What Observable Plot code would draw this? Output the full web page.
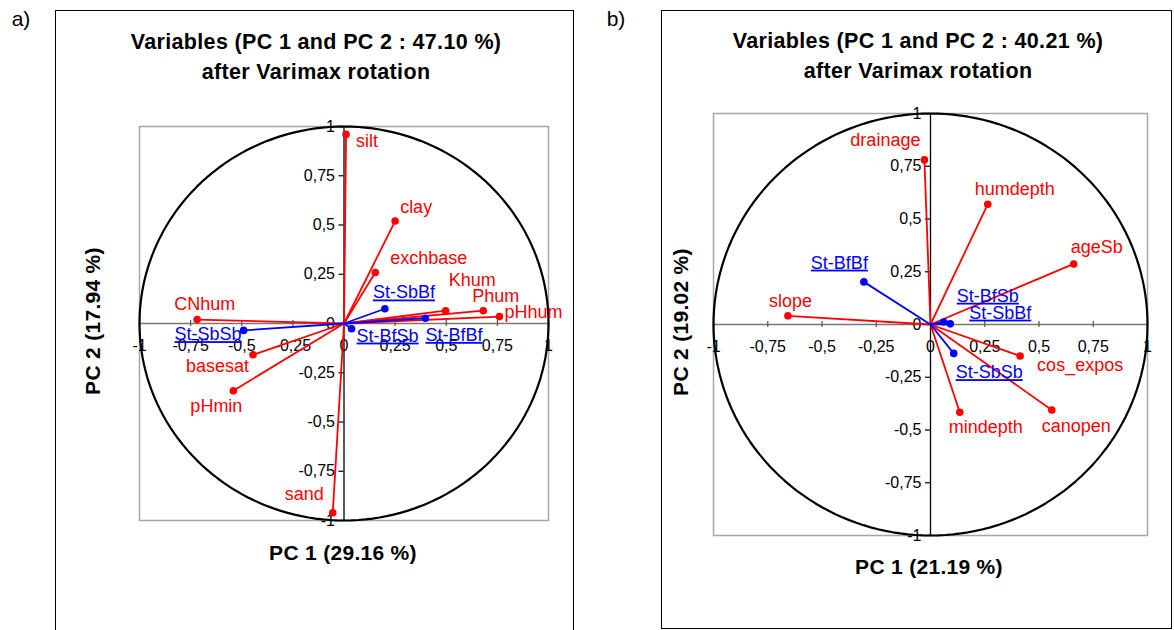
<!DOCTYPE html>
<html>
<head>
<meta charset="utf-8">
<script src="https://cdn.jsdelivr.net/npm/d3@7"></script>
<script src="https://cdn.jsdelivr.net/npm/@observablehq/plot@0.6"></script>
<style>
  html, body { margin: 0; padding: 0; background: #fff; }
  #root { position: relative; width: 1174px; height: 630px; overflow: hidden; font-family: "Liberation Sans", Arial, sans-serif; color: #000; }
  .frame { position: absolute; border: 1px solid #000; box-sizing: border-box; }
  .txt { position: absolute; white-space: nowrap; transform: translate(-50%, -50%); }
  .title { font-weight: bold; font-size: 21.5px; letter-spacing: 0.35px; text-align: center; line-height: 30px; }
  .axt { font-weight: bold; font-size: 21px; letter-spacing: 0.3px; }
  .vert { transform: translate(-50%, -50%) rotate(-90deg); }
  .letter { font-size: 21px; }
  .plot { position: absolute; top: 0; }
  g[fill="#0000ff"] text { text-decoration: underline; text-decoration-thickness: 2px; }
</style>
</head>
<body>
<div id="root"></div>
<script>
// ---------- Data: panel a ----------
const varsA   = ["silt", "clay", "exchbase", "Khum", "Phum", "pHhum", "CNhum", "basesat", "pHmin", "sand"];
const pc1A    = [0.01, 0.25, 0.153, 0.497, 0.681, 0.76, -0.718, -0.445, -0.541, -0.055];
const pc2A    = [0.96, 0.52, 0.259, 0.065, 0.065, 0.035, 0.02, -0.159, -0.341, -0.961];
const sitesA  = ["St-SbBf", "St-BfBf", "St-BfSb", "St-SbSb"];
const sPc1A   = [0.2, 0.398, 0.037, -0.491];
const sPc2A   = [0.075, 0.027, -0.027, -0.035];

// ---------- Data: panel b ----------
const varsB   = ["drainage", "humdepth", "ageSb", "slope", "cos_expos", "canopen", "mindepth"];
const pc1B    = [-0.028, 0.264, 0.66, -0.657, 0.413, 0.559, 0.135];
const pc2B    = [0.78, 0.57, 0.287, 0.041, -0.149, -0.405, -0.416];
const sitesB  = ["St-BfBf", "St-BfSb", "St-SbBf", "St-SbSb"];
const sPc1B   = [-0.307, 0.061, 0.091, 0.107];
const sPc2B   = [0.202, 0.012, 0.003, -0.137];

// ---------- Axis ticks & texts ----------
const ticks = [-1, -0.75, -0.5, -0.25, 0, 0.25, 0.5, 0.75, 1];
const titlesA = ["Variables (PC 1 and PC 2 : 47.10 %)", "after Varimax rotation"];
const titlesB = ["Variables (PC 1 and PC 2 : 40.21 %)", "after Varimax rotation"];
const xTitleA = "PC 1 (29.16 %)", yTitleA = "PC 2 (17.94 %)";
const xTitleB = "PC 1 (21.19 %)", yTitleB = "PC 2 (19.02 %)";

// ---------- Label placement (anchor, dx, dy) ----------
const labVarA  = [["start",10,7],["start",5,-14],["start",15,-14],["start",3,-30],["start",-11,-14],["start",5,-4],["start",-23,-15],["end",-4,11],["middle",-17,16],["end",-9,-19]];
const labSiteA = [["start",-12,-16],["start",0,17],["start",5,7],["end",-2,4]];
const labVarB  = [["end",-4,-20],["start",-13,-15],["start",-3,-17],["start",-19,-15],["start",17,9],["start",-10,16],["start",-11,15]];
const labSiteB = [["end",4,-19],["start",13,-26],["start",19,-11],["start",2,19]];

const fmt = d => String(d).replace(".", ",");
const RED = "#ff0000", BLUE = "#0000ff";
const circle = d3.range(0, 361, 2).map(a => [Math.cos(a * Math.PI / 180), Math.sin(a * Math.PI / 180)]);

function panel({left, width, mL, mR, mT, mB, vars, p1, p2, sites, s1, s2, labV, labS}) {
  const height = 630;
  const kx = (width - mL - mR) / 2, ky = (height - mT - mB) / 2;
  const V = vars.map((n, i) => ({name: n, x: p1[i], y: p2[i]}));
  const S = sites.map((n, i) => ({name: n, x: s1[i], y: s2[i]}));
  const labels = (arr, lab, fill) => arr.map((d, i) => Plot.text([d], {
    x: "x", y: "y", text: "name", textAnchor: lab[i][0], dx: lab[i][1], dy: lab[i][2],
    fill, fontSize: 18
  }));
  const chart = Plot.plot({
    width, height,
    marginLeft: mL, marginRight: mR, marginTop: mT, marginBottom: mB,
    x: {domain: [-1, 1], axis: null},
    y: {domain: [-1, 1], axis: null},
    style: {fontFamily: "'Liberation Sans', Arial, sans-serif", fontSize: "16px", background: "transparent", overflow: "visible"},
    marks: [
      Plot.frame({stroke: "#a6a6a6", strokeWidth: 1.5}),
      Plot.ruleY([0], {x1: -1, x2: 1, stroke: "#777", strokeWidth: 1.5}),
      Plot.ruleX(ticks, {x: d => d, y1: -3 / ky, y2: 3 / ky, stroke: "#555", strokeWidth: 1.2}),
      Plot.ruleX([0], {y1: -1, y2: 1, stroke: "#000", strokeWidth: 1.3}),
      Plot.ruleY(ticks, {y: d => d, x1: -5 / kx, x2: 0, stroke: "#000", strokeWidth: 1.2}),
      Plot.text(ticks, {x: d => d, y: 0, dy: 22, text: fmt, fill: "#000", fontSize: 16}),
      Plot.text(ticks, {x: 0, y: d => d, dx: -9, text: fmt, textAnchor: "end", fill: "#000", fontSize: 16}),
      Plot.line(circle, {x: d => d[0], y: d => d[1], stroke: "#000", strokeWidth: 2.2}),
      Plot.link(V, {x1: 0, y1: 0, x2: "x", y2: "y", stroke: RED, strokeWidth: 1.8}),
      Plot.link(S, {x1: 0, y1: 0, x2: "x", y2: "y", stroke: BLUE, strokeWidth: 1.8}),
      Plot.dot(V, {x: "x", y: "y", r: 3.8, fill: RED}),
      Plot.dot(S, {x: "x", y: "y", r: 3.8, fill: BLUE}),
      ...labels(V, labV, RED),
      ...labels(S, labS, BLUE)
    ]
  });
  chart.classList.add("plot");
  chart.style.left = left + "px";
  return chart;
}

const root = document.getElementById("root");
function addDiv(cls, text, x, y, extra) {
  const d = document.createElement("div");
  d.className = cls;
  d.textContent = text;
  d.style.left = x + "px";
  d.style.top = y + "px";
  if (extra) Object.assign(d.style, extra);
  root.appendChild(d);
  return d;
}
function addFrame(l, t, w, h) {
  const d = document.createElement("div");
  d.className = "frame";
  Object.assign(d.style, {left: l + "px", top: t + "px", width: w + "px", height: h + "px"});
  root.appendChild(d);
}

addFrame(55, 10, 519, 640);
addFrame(661, 10, 511, 619);

root.appendChild(panel({left: 0, width: 590, mL: 139, mR: 42, mT: 126, mB: 110,
  vars: varsA, p1: pc1A, p2: pc2A, sites: sitesA, s1: sPc1A, s2: sPc2A, labV: labVarA, labS: labSiteA}));
root.appendChild(panel({left: 590, width: 584, mL: 123, mR: 27, mT: 113, mB: 95,
  vars: varsB, p1: pc1B, p2: pc2B, sites: sitesB, s1: sPc1B, s2: sPc2B, labV: labVarB, labS: labSiteB}));

addDiv("txt title", titlesA[0], 316, 42);
addDiv("txt title", titlesA[1], 316, 72);
addDiv("txt title", titlesB[0], 918, 41);
addDiv("txt title", titlesB[1], 918, 71);
addDiv("txt axt", xTitleA, 343, 553);
addDiv("txt axt", xTitleB, 929, 567);
addDiv("txt axt vert", yTitleA, 93, 321);
addDiv("txt axt vert", yTitleB, 681, 322);
addDiv("txt letter", "a)", 21, 19);
addDiv("txt letter", "b)", 616, 19);
</script>
</body>
</html>
